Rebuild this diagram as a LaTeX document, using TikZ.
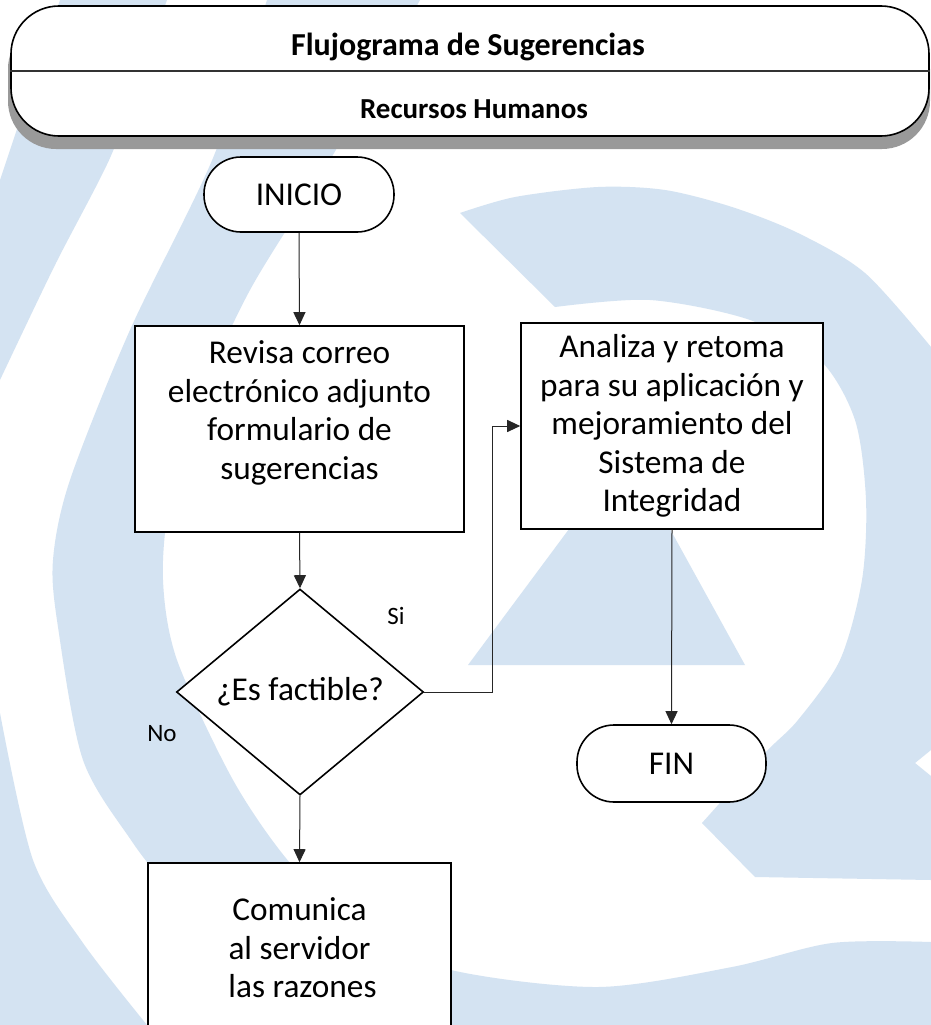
\documentclass[tikz,border=0pt]{standalone}
\usepackage{fontspec}
\setmainfont{Carlito}
\usetikzlibrary{arrows.meta,shapes.geometric}
\definecolor{wm}{RGB}{212,227,242}
\newcommand\bodyfnt{\fontsize{33.3}{38.6}\selectfont}
\tikzset{
  wmark/.style={fill=wm},
  procbox/.style={draw=black, line width=1.6pt, fill=white, inner sep=0pt, align=center, font=\bodyfnt},
  termbox/.style={procbox, rounded corners=37pt},
  boxtext/.style={inner sep=0pt, align=center, font=\bodyfnt},
  conn/.style={draw=black!85, line width=1pt, -{Triangle[length=13pt,width=12pt]}},
  lbl/.style={font=\fontsize{25}{30}\selectfont, inner sep=0pt},
  hdrtext/.style={anchor=base, inner sep=0pt},
}
\begin{document}
\begin{tikzpicture}[x=1pt,y=-1pt]
\clip (0,0) rectangle (931,1025);
\fill[white] (0,0) rectangle (931,1025);
% ---- watermark ----
\fill[wmark] plot[smooth] coordinates {(167,0) (140,75) (110,158) (55,265) (0,380)} -- (0,180) -- plot[smooth] coordinates {(0,180) (30,90) (60,0)} -- cycle;
\fill[wmark] plot[smooth] coordinates {(0,713) (33,860) (83,943) (147,1025)} -- (0,1025) -- cycle;
\fill[wmark] plot[smooth] coordinates {(267,0) (213,158) (130,330) (70,480) (53,560) (58,627) (83,760) (133,843) (190,920) (240,1025)}
  -- (931,1025) -- (931,942)
  -- plot[smooth] coordinates {(931,942) (832,943) (732,967) (598,987) (451,970) (360,930) (290,863) (233,780) (177,660) (163,580) (170,500) (200,400) (250,290) (330,160) (420,0)} -- cycle;
\fill[wmark] plot[smooth] coordinates {(460,213) (515,197) (598,187) (665,190) (732,207) (798,233) (865,273) (931,347)}
  -- (931,750) -- (915,763) -- (931,776) -- (931,880) -- (755,877) -- (702,823)
  -- plot[smooth] coordinates {(702,823) (765,753) (798,720) (840,660) (862,580) (866,500) (855,420) (820,360) (750,320) (650,300) (555,307)} -- cycle;
\fill[wmark] (627,451) -- (745,665) -- (468,665) -- cycle;
% ---- header ----
\node[fill=black!40, rounded corners=48pt, minimum width=922pt, minimum height=128pt, inner sep=0pt] (hdrshadow) at (469,85) {};
\node[draw=black, line width=1.6pt, fill=white, rounded corners=48pt, minimum width=918pt, minimum height=130pt, inner sep=0pt] (hdr) at (470,71) {};
\draw[line width=1.4pt, black!80] (hdr.west) -- (hdr.east);
\node[hdrtext, font=\fontsize{32}{36}\selectfont\bfseries] (tit) at (468,56) {Flujograma de Sugerencias};
\node[hdrtext, font=\fontsize{29}{34}\selectfont\bfseries] (sub) at (474,118) {Recursos Humanos};
% ---- flowchart ----
\node[termbox, minimum width=190pt, minimum height=75pt] (ini) at (299,194.5) {INICIO};
\node[procbox, minimum width=329pt, minimum height=206pt] (rev) at (299.5,429) {};
\node[boxtext] (revtext) at (299.5,413) {Revisa correo\\electrónico adjunto\\formulario de\\sugerencias};
\node[procbox, shape=diamond, aspect=1.2, minimum width=247pt, minimum height=206pt] (dia) at (300,692) {¿Es factible?};
\node[procbox, minimum width=302pt, minimum height=206pt] (ana) at (672,426) {Analiza y retoma\\para su aplicación y\\mejoramiento del\\Sistema de\\Integridad};
\node[termbox, minimum width=189pt, minimum height=77pt] (fin) at (671.5,763.5) {FIN};
\node[procbox, minimum width=303pt, minimum height=170pt] (com) at (299.5,948) {Comunica\\al servidor\\\hspace*{6pt}las razones};
\node[lbl] (si) at (396,616) {Si};
\node[lbl] (no) at (162,734) {No};
\coordinate (elb) at (492,560);
\draw[conn] (ini.south) -- (rev.north);
\draw[conn] (rev.south) -- (dia.north);
\draw[conn] (dia.south) -- (com.north);
\draw[conn] (dia.east) -- (dia.east -| elb) -- (elb |- ana.west) -- (ana.west);
\draw[conn] (ana.south) -- (fin.north);
\end{tikzpicture}
\end{document}
